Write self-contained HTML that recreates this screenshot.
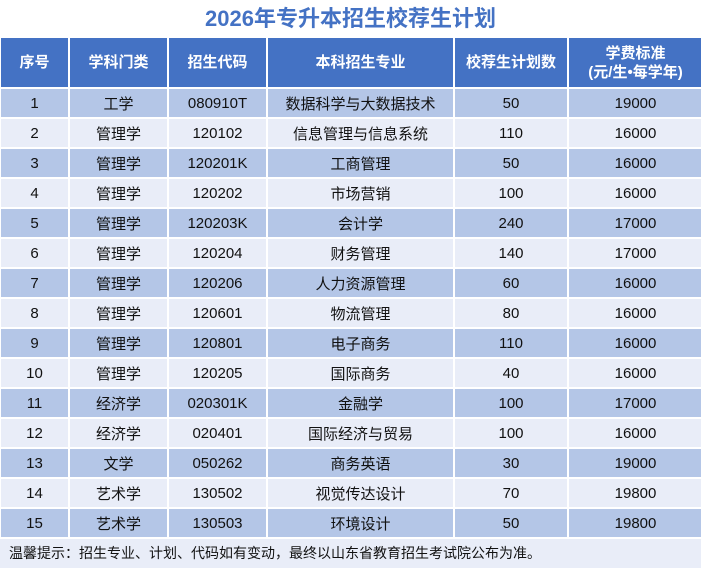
<!DOCTYPE html>
<html><head><meta charset="utf-8"><style>
body{margin:0;width:701px;height:568px;background:#fff;font-family:"Liberation Sans","Noto Sans CJK SC",sans-serif;overflow:hidden;position:relative}
.t{position:absolute;top:0;left:0;width:701px;height:37px;line-height:37px;text-align:center;color:#4472C4;font-weight:bold;font-size:22px}
table{position:absolute;top:36px;left:-1px;border-collapse:collapse;table-layout:fixed;width:703px}
td{border:2px solid #fff;text-align:center;font-size:15px;color:#111;padding:0}
tr{height:30px}
tr.h{height:51px}
tr.h td{background:#4472C4;color:#fff;font-weight:bold;font-size:15px;line-height:19px}
tr.o td{background:#B4C6E7}
tr.e td{background:#E9EDF8}
.f{position:absolute;top:539px;left:0;width:701px;height:29px;background:#E9EDF8;font-size:14px;line-height:28px;padding-left:9px;color:#111;box-sizing:border-box}
</style></head><body>
<div class="t">2026年专升本招生校荐生计划</div>
<table>
<colgroup><col style="width:69px"><col style="width:99px"><col style="width:99px"><col style="width:187px"><col style="width:114px"><col style="width:135px"></colgroup>
<tr class="h"><td>序号</td><td>学科门类</td><td>招生代码</td><td>本科招生专业</td><td>校荐生计划数</td><td>学费标准<br>(元/生•每学年)</td></tr>
<tr class="o"><td>1</td><td>工学</td><td>080910T</td><td>数据科学与大数据技术</td><td>50</td><td>19000</td></tr>
<tr class="e"><td>2</td><td>管理学</td><td>120102</td><td>信息管理与信息系统</td><td>110</td><td>16000</td></tr>
<tr class="o"><td>3</td><td>管理学</td><td>120201K</td><td>工商管理</td><td>50</td><td>16000</td></tr>
<tr class="e"><td>4</td><td>管理学</td><td>120202</td><td>市场营销</td><td>100</td><td>16000</td></tr>
<tr class="o"><td>5</td><td>管理学</td><td>120203K</td><td>会计学</td><td>240</td><td>17000</td></tr>
<tr class="e"><td>6</td><td>管理学</td><td>120204</td><td>财务管理</td><td>140</td><td>17000</td></tr>
<tr class="o"><td>7</td><td>管理学</td><td>120206</td><td>人力资源管理</td><td>60</td><td>16000</td></tr>
<tr class="e"><td>8</td><td>管理学</td><td>120601</td><td>物流管理</td><td>80</td><td>16000</td></tr>
<tr class="o"><td>9</td><td>管理学</td><td>120801</td><td>电子商务</td><td>110</td><td>16000</td></tr>
<tr class="e"><td>10</td><td>管理学</td><td>120205</td><td>国际商务</td><td>40</td><td>16000</td></tr>
<tr class="o"><td>11</td><td>经济学</td><td>020301K</td><td>金融学</td><td>100</td><td>17000</td></tr>
<tr class="e"><td>12</td><td>经济学</td><td>020401</td><td>国际经济与贸易</td><td>100</td><td>16000</td></tr>
<tr class="o"><td>13</td><td>文学</td><td>050262</td><td>商务英语</td><td>30</td><td>19000</td></tr>
<tr class="e"><td>14</td><td>艺术学</td><td>130502</td><td>视觉传达设计</td><td>70</td><td>19800</td></tr>
<tr class="o"><td>15</td><td>艺术学</td><td>130503</td><td>环境设计</td><td>50</td><td>19800</td></tr>
</table>
<div class="f">温馨提示：招生专业、计划、代码如有变动，最终以山东省教育招生考试院公布为准。</div>
</body></html>
